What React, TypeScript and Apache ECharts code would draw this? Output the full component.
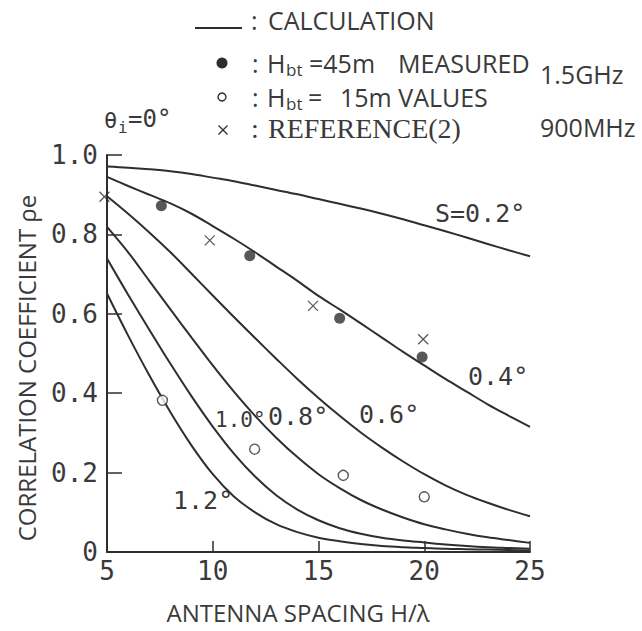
import React, { useEffect, useRef } from "react";
import * as echarts from "echarts";

// Antenna spacing H/λ sample positions
const XS = [5, 6, 7, 8, 9, 10, 11, 12, 13, 14, 15, 16, 17, 18, 19, 20, 21, 22, 23, 24, 25];

// Calculated correlation curves
const S02 = [0.971, 0.968, 0.964, 0.959, 0.952, 0.943, 0.934, 0.923, 0.912, 0.901, 0.889, 0.877, 0.865, 0.852, 0.838, 0.823, 0.808, 0.792, 0.776, 0.76, 0.745];
const S04 = [0.945, 0.922, 0.9, 0.878, 0.852, 0.821, 0.789, 0.755, 0.719, 0.683, 0.645, 0.611, 0.576, 0.54, 0.504, 0.47, 0.436, 0.404, 0.372, 0.343, 0.315];
const S06 = [0.896, 0.852, 0.805, 0.755, 0.701, 0.646, 0.592, 0.539, 0.487, 0.436, 0.388, 0.343, 0.301, 0.263, 0.228, 0.196, 0.168, 0.144, 0.124, 0.106, 0.09];
const S08 = [0.819, 0.755, 0.683, 0.611, 0.54, 0.47, 0.404, 0.343, 0.288, 0.239, 0.196, 0.161, 0.131, 0.107, 0.087, 0.07, 0.057, 0.046, 0.037, 0.03, 0.023];
const S10 = [0.739, 0.648, 0.56, 0.474, 0.392, 0.316, 0.248, 0.19, 0.143, 0.107, 0.08, 0.06, 0.046, 0.036, 0.029, 0.024, 0.019, 0.015, 0.012, 0.01, 0.008];
const S12 = [0.651, 0.545, 0.445, 0.352, 0.268, 0.196, 0.14, 0.1, 0.07, 0.05, 0.036, 0.027, 0.02, 0.015, 0.012, 0.01, 0.008, 0.007, 0.006, 0.005, 0.004];

// Measured values
const MEAS_45M = [[7.57, 0.872], [11.75, 0.746], [16.0, 0.589], [19.9, 0.491]];
const MEAS_15M = [[7.62, 0.382], [11.98, 0.259], [16.17, 0.193], [20.0, 0.139]];
const REFERENCE = [[4.88, 0.895], [9.86, 0.785], [14.74, 0.62], [19.95, 0.536]];

const INK = "#2e2e2e";
const TXT = "#3a3a3a";
const MONO = '"DejaVu Sans Mono", monospace';
const SANS = '"Open Sans", "Noto Sans", sans-serif';
const SERIF = '"Liberation Serif", "DejaVu Serif", serif';

function txt(x: number, y: number, text: string, font: string, extra: any = {}) {
  return {
    type: "text",
    x,
    y,
    silent: true,
    ...extra,
    style: { text, x: 0, y: 0, font, fill: TXT, align: "left", verticalAlign: "middle", ...(extra.style || {}) },
  };
}

export default function App() {
  const ref = useRef<HTMLDivElement>(null);

  useEffect(() => {
    if (!ref.current) return;
    const chart = echarts.init(ref.current, undefined, { renderer: "svg" });

    const curves = [S02, S04, S06, S08, S10, S12];
    const lineSeries = curves.map((vals, k) => ({
      type: "line",
      name: "S" + k,
      data: XS.map((x, i) => [x, vals[i]]),
      smooth: 0.35,
      symbol: "none",
      lineStyle: { color: INK, width: 2 },
      z: 2,
    }));

    const graphic: any[] = [
      // Legend row 1
      { type: "line", silent: true, shape: { x1: 195, y1: 28, x2: 242, y2: 28 }, style: { stroke: INK, lineWidth: 2 } },
      txt(251, 20, ":", `25px ${SANS}`),
      txt(268, 20, "CALCULATION", `25px ${SANS}`),
      // Row 2
      { type: "circle", silent: true, shape: { cx: 222, cy: 63, r: 5.5 }, style: { fill: INK } },
      txt(252, 63, ":", `25px ${SANS}`),
      txt(267, 63, "H", `25px ${SANS}`),
      txt(286, 69, "bt", `17px ${SANS}`),
      txt(309, 63, "=45m", `25px ${SANS}`),
      txt(398, 63, "MEASURED", `25px ${SANS}`),
      txt(540, 74, "1.5GHz", `25px ${SANS}`),
      // Row 3
      { type: "circle", silent: true, shape: { cx: 222, cy: 97, r: 4 }, style: { fill: "#fff", stroke: INK, lineWidth: 1.4 } },
      txt(252, 97, ":", `25px ${SANS}`),
      txt(267, 97, "H", `25px ${SANS}`),
      txt(286, 103, "bt", `17px ${SANS}`),
      txt(308, 97, "=", `25px ${SANS}`),
      txt(340, 97, "15m VALUES", `25px ${SANS}`),
      // Row 4
      { type: "line", silent: true, shape: { x1: 218.5, y1: 125.5, x2: 227.5, y2: 134.5 }, style: { stroke: INK, lineWidth: 1.3 } },
      { type: "line", silent: true, shape: { x1: 227.5, y1: 125.5, x2: 218.5, y2: 134.5 }, style: { stroke: INK, lineWidth: 1.3 } },
      txt(251, 128, ":", `28px ${SERIF}`),
      txt(268, 128, "REFERENCE(2)", `28px ${SERIF}`),
      txt(540, 127, "900MHz", `25px ${SANS}`),
      // theta_i = 0°
      txt(104, 120, "θ", `22px ${MONO}`),
      txt(118, 127, "i", `16px ${MONO}`),
      txt(128, 119, "=0°", `24px ${MONO}`),
      // Curve labels
      txt(435, 213, "S=0.2°", `25px ${MONO}`),
      txt(468, 376, "0.4°", `25px ${MONO}`),
      txt(359, 414, "0.6°", `25px ${MONO}`),
      txt(268, 416, "0.8°", `25px ${MONO}`),
      txt(215, 420, "1.0°", `21px ${MONO}`),
      txt(173, 500, "1.2°", `25px ${MONO}`),
      // Axis titles
      {
        type: "text",
        x: 26,
        y: 368,
        rotation: Math.PI / 2,
        silent: true,
        style: { text: "CORRELATION COEFFICIENT ρe", x: 0, y: 0, font: `24px ${SANS}`, fill: TXT, align: "center", verticalAlign: "middle" },
      },
      txt(298, 612, "ANTENNA SPACING H/λ", `24px ${SANS}`, { style: { align: "center" } }),
    ];

    const option: any = {
      animation: false,
      backgroundColor: "#fff",
      grid: { left: 107, top: 155, width: 423, height: 397, containLabel: false },
      xAxis: {
        type: "value",
        min: 5,
        max: 25,
        interval: 5,
        axisLine: { show: true, onZero: false, lineStyle: { color: INK, width: 2 } },
        axisTick: { show: true, inside: true, length: 11, lineStyle: { color: INK, width: 1.5 } },
        splitLine: { show: false },
        axisLabel: { color: TXT, fontFamily: MONO, fontSize: 26, margin: 6 },
      },
      yAxis: {
        type: "value",
        min: 0,
        max: 1,
        interval: 0.2,
        axisLine: { show: true, onZero: false, lineStyle: { color: INK, width: 2 } },
        axisTick: { show: true, inside: true, length: 15, lineStyle: { color: INK, width: 1.5 } },
        splitLine: { show: false },
        axisLabel: {
          color: TXT,
          fontFamily: MONO,
          fontSize: 26,
          margin: 9,
          formatter: (v: number) => (v === 0 ? "0" : v.toFixed(1)),
        },
      },
      series: [
        ...lineSeries,
        {
          type: "scatter",
          name: "45m",
          data: MEAS_45M,
          symbol: "circle",
          symbolSize: 11,
          itemStyle: { color: INK },
          clip: false,
          z: 3,
        },
        {
          type: "scatter",
          name: "15m",
          data: MEAS_15M,
          symbol: "circle",
          symbolSize: 10,
          itemStyle: { color: "#fff", borderColor: INK, borderWidth: 1.4 },
          clip: false,
          z: 3,
        },
        {
          type: "scatter",
          name: "ref",
          data: REFERENCE,
          symbol: "path://M0 0 L10 10 M10 0 L0 10",
          symbolSize: 10,
          itemStyle: { color: "rgba(0,0,0,0)", borderColor: INK, borderWidth: 1.3 },
          clip: false,
          z: 3,
        },
      ],
      graphic,
    };

    chart.setOption(option);
    return () => chart.dispose();
  }, []);

  return <div ref={ref} style={{ position: "absolute", left: 0, top: 0, width: 642, height: 631 }} />;
}
